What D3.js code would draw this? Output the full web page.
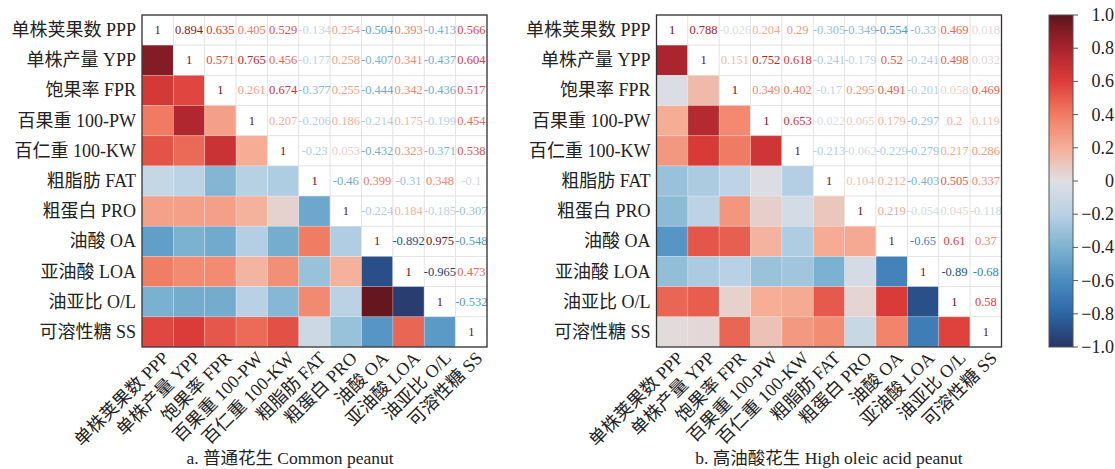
<!DOCTYPE html>
<html>
<head>
<meta charset="utf-8">
<script src="https://cdn.jsdelivr.net/npm/d3@7"></script>
<style>
  body { margin: 0; background: #fff; }
  svg text { font-family: "Liberation Serif", "Noto Sans CJK SC", serif; }
</style>
</head>
<body>
<svg width="1115" height="469"></svg>
<script>
const svg = d3.select("svg");

// trait labels (rows / columns)
const labels = [
  "单株荚果数 PPP", "单株产量 YPP", "饱果率 FPR", "百果重 100-PW", "百仁重 100-KW",
  "粗脂肪 FAT", "粗蛋白 PRO", "油酸 OA", "亚油酸 LOA", "油亚比 O/L", "可溶性糖 SS"
];

// upper triangle (right of diagonal), row by row
const commonUpper = [
  [0.894, 0.635, 0.405, 0.529, -0.134, 0.254, -0.504, 0.393, -0.413, 0.566],
  [0.571, 0.765, 0.456, -0.177, 0.258, -0.407, 0.341, -0.437, 0.604],
  [0.261, 0.674, -0.377, 0.255, -0.444, 0.342, -0.436, 0.517],
  [0.207, -0.206, 0.186, -0.214, 0.175, -0.199, 0.454],
  [-0.23, 0.053, -0.432, 0.323, -0.371, 0.538],
  [-0.46, 0.399, -0.31, 0.348, -0.1],
  [-0.224, 0.184, -0.185, -0.307],
  [-0.892, 0.975, -0.548],
  [-0.965, 0.473],
  [-0.532],
  []
];

const highOleicUpper = [
  [0.788, -0.026, 0.204, 0.29, -0.305, -0.349, -0.554, -0.33, 0.469, 0.018],
  [0.151, 0.752, 0.618, -0.241, -0.179, 0.52, -0.241, 0.498, 0.032],
  [0.349, 0.402, -0.17, 0.295, 0.491, -0.201, 0.058, 0.469],
  [0.653, -0.022, 0.065, 0.179, -0.297, 0.2, 0.119],
  [-0.213, -0.062, -0.229, -0.279, 0.217, 0.286],
  [0.104, 0.212, -0.403, 0.505, 0.337],
  [0.219, -0.054, 0.045, -0.118],
  [-0.65, 0.61, 0.37],
  [-0.89, -0.68],
  [0.58],
  []
];

const colorTicks = [1, 0.8, 0.6, 0.4, 0.2, 0, -0.2, -0.4, -0.6, -0.8, -1];

// diverging palette
const color = d3.scaleLinear()
  .domain([1, 0.8, 0.6, 0.4, 0.2, 0, -0.2, -0.4, -0.6, -0.8, -1])
  .range(["#5c141c", "#a8232d", "#dd3c39", "#f07c63", "#f6ae97", "#dfdfe3",
          "#b8d1e5", "#7db3d1", "#4a8cc0", "#2c66a6", "#283464"])
  .interpolate(d3.interpolateRgb)
  .clamp(true);

const toCells = upper => {
  const n = labels.length;
  const m = d3.range(n).map(i => d3.range(n).map(j => 1));
  upper.forEach((row, i) => row.forEach((v, k) => {
    const j = i + 1 + k;
    m[i][j] = v;
    m[j][i] = v;
  }));
  const cells = [];
  m.forEach((row, i) => row.forEach((v, j) => cells.push({ i, j, v })));
  return cells;
};

const fmt = v => (v === 1 ? "1" : String(v));

const drawMatrix = (upper, left, caption, captionX) => {
  const top = 15, w = 345, h = 332;
  const g = svg.append("g").attr("transform", `translate(${left},${top})`);

  const x = d3.scaleBand().domain(labels).range([0, w]);
  const y = d3.scaleBand().domain(labels).range([0, h]);
  const cells = toCells(upper);

  g.selectAll("rect.cell")
    .data(cells)
    .join("rect")
    .attr("class", "cell")
    .attr("x", d => x(labels[d.j]))
    .attr("y", d => y(labels[d.i]))
    .attr("width", x.bandwidth())
    .attr("height", y.bandwidth())
    .attr("fill", d => (d.i > d.j ? color(d.v) : "#fff"))
    .attr("stroke", d => (d.i > d.j ? "rgba(255,255,255,0.25)" : "#e2e2e2"))
    .attr("stroke-width", 0.8);

  g.selectAll("text.val")
    .data(cells.filter(d => d.j >= d.i))
    .join("text")
    .attr("class", "val")
    .attr("x", d => x(labels[d.j]) + x.bandwidth() / 2)
    .attr("y", d => y(labels[d.i]) + y.bandwidth() / 2)
    .attr("text-anchor", "middle")
    .attr("dominant-baseline", "central")
    .attr("font-size", 12.5)
    .attr("fill", d => color(d.v))
    .text(d => fmt(d.v));

  g.append("rect")
    .attr("width", w).attr("height", h)
    .attr("fill", "none").attr("stroke", "#333").attr("stroke-width", 1.3);

  // row labels
  g.selectAll("text.row")
    .data(labels)
    .join("text")
    .attr("class", "row")
    .attr("x", -6)
    .attr("y", d => y(d) + y.bandwidth() / 2)
    .attr("text-anchor", "end")
    .attr("dominant-baseline", "central")
    .attr("font-size", 18)
    .attr("fill", "#222")
    .text(d => d);

  // column labels, rotated
  g.selectAll("text.col")
    .data(labels)
    .join("text")
    .attr("class", "col")
    .attr("transform", d => `translate(${x(d) + x.bandwidth() / 2 + 8},${h + 8}) rotate(-45)`)
    .attr("text-anchor", "end")
    .attr("dominant-baseline", "central")
    .attr("font-size", 18)
    .attr("fill", "#222")
    .text(d => d);

  svg.append("text")
    .attr("x", captionX)
    .attr("y", 464)
    .attr("text-anchor", "middle")
    .attr("font-size", 17.5)
    .attr("fill", "#222")
    .text(caption);
};

drawMatrix(commonUpper, 142, "a. 普通花生 Common peanut", 290);
drawMatrix(highOleicUpper, 656.5, "b. 高油酸花生 High oleic acid peanut", 829);

// colorbar
const cb = { x: 1049, y: 15, w: 24, h: 332 };
const defs = svg.append("defs");
const grad = defs.append("linearGradient")
  .attr("id", "cbar").attr("x1", 0).attr("y1", 0).attr("x2", 0).attr("y2", 1);
d3.range(0, 1.0001, 0.05).forEach(t => {
  grad.append("stop").attr("offset", t).attr("stop-color", color(1 - 2 * t));
});
svg.append("rect")
  .attr("x", cb.x).attr("y", cb.y).attr("width", cb.w).attr("height", cb.h)
  .attr("fill", "url(#cbar)").attr("stroke", "#555").attr("stroke-width", 1);

const cy = d3.scaleLinear().domain([1, -1]).range([cb.y, cb.y + cb.h]);
const cbAxis = svg.append("g");
cbAxis.selectAll("line")
  .data(colorTicks)
  .join("line")
  .attr("x1", cb.x + cb.w).attr("x2", cb.x + cb.w + 5)
  .attr("y1", d => cy(d)).attr("y2", d => cy(d))
  .attr("stroke", "#555");
cbAxis.selectAll("text")
  .data(colorTicks)
  .join("text")
  .attr("x", 1114)
  .attr("y", d => cy(d))
  .attr("text-anchor", "end")
  .attr("dominant-baseline", "central")
  .attr("font-size", 18)
  .attr("fill", "#222")
  .text(d => (d === 0 ? "0" : d3.format(".1f")(d).replace("-", "−")));
</script>
</body>
</html>
